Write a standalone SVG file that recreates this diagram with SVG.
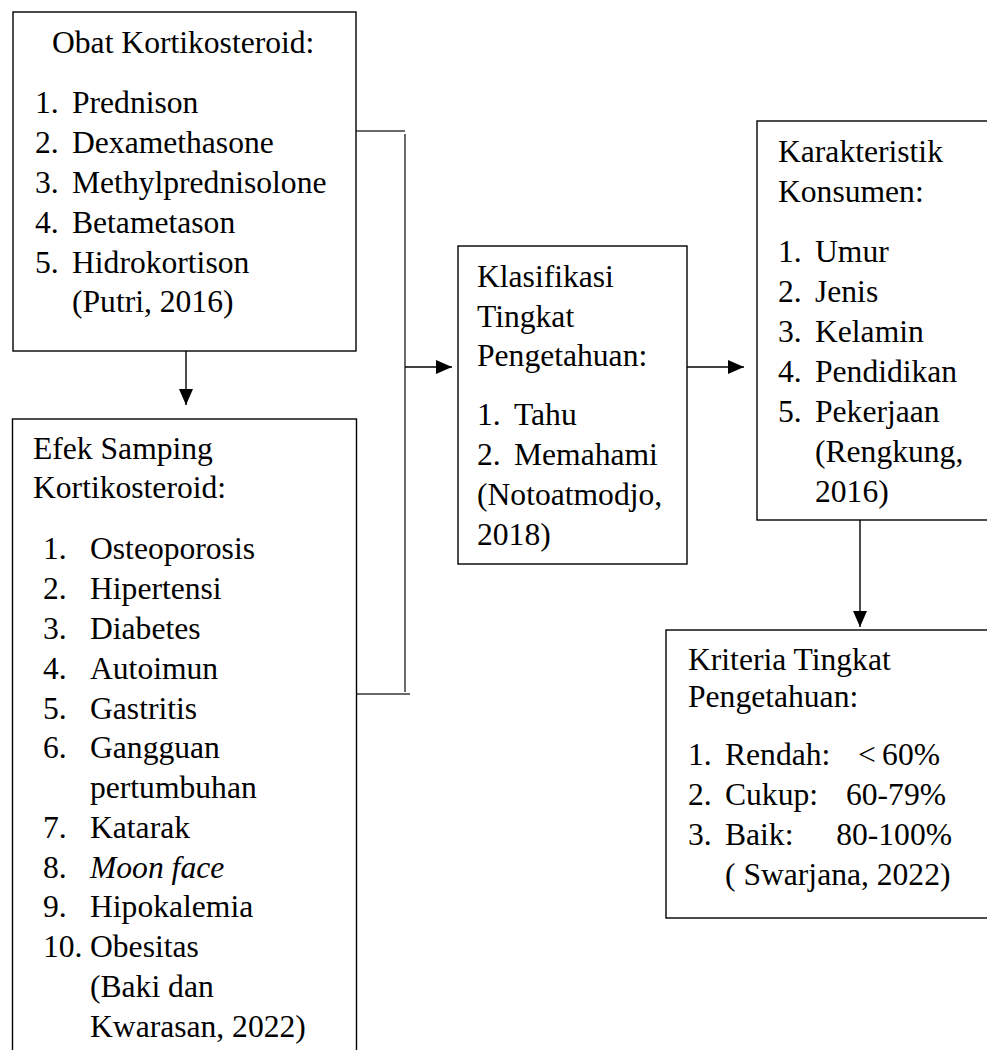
<svg xmlns="http://www.w3.org/2000/svg" width="987" height="1050" viewBox="0 0 987 1050">
<style>
.box{fill:#fff;stroke:#000;stroke-width:1.4}
.t{font-family:"Liberation Serif","Times New Roman",serif;font-size:31.6px;fill:#000}
.it{font-style:italic}
.e{text-anchor:end}
.conn{fill:none;stroke:#000;stroke-width:1.4}
.br{fill:none;stroke:#3a3a3a;stroke-width:1.5}
</style>
<defs>
<marker id="ah" markerUnits="userSpaceOnUse" markerWidth="16" markerHeight="14" refX="16" refY="7" orient="auto">
<path d="M0,0 L16,7 L0,14 Z" fill="#000"/>
</marker>
</defs>
<rect width="987" height="1050" fill="#fff"/>
<g id="connectors">
<path class="br" d="M356,131 H405 M405,134 V692 M356,694 H410"/>
<line class="conn" x1="186" y1="351" x2="186" y2="405" marker-end="url(#ah)"/>
<line class="conn" x1="405" y1="367" x2="452" y2="367" marker-end="url(#ah)"/>
<line class="conn" x1="687" y1="367" x2="744" y2="367" marker-end="url(#ah)"/>
<line class="conn" x1="860" y1="520" x2="860" y2="627" marker-end="url(#ah)"/>
</g>
<g id="obat">
<rect class="box" x="13" y="12" width="343" height="339"/>
<text class="t" x="52" y="53">Obat Kortikosteroid:</text>
<text class="t" x="35" y="113">1.</text><text class="t" x="72" y="113">Prednison</text>
<text class="t" x="35" y="153">2.</text><text class="t" x="72" y="153">Dexamethasone</text>
<text class="t" x="35" y="193">3.</text><text class="t" x="72" y="193">Methylprednisolone</text>
<text class="t" x="35" y="233">4.</text><text class="t" x="72" y="233">Betametason</text>
<text class="t" x="35" y="273">5.</text><text class="t" x="72" y="273">Hidrokortison</text>
<text class="t" x="72" y="312">(Putri, 2016)</text>
</g>
<g id="efek">
<rect class="box" x="12.5" y="419" width="344" height="700"/>
<text class="t" x="33" y="459">Efek Samping</text>
<text class="t" x="33" y="498">Kortikosteroid:</text>
<text class="t" x="43" y="559">1.</text><text class="t" x="90" y="559">Osteoporosis</text>
<text class="t" x="43" y="599">2.</text><text class="t" x="90" y="599">Hipertensi</text>
<text class="t" x="43" y="639">3.</text><text class="t" x="90" y="639">Diabetes</text>
<text class="t" x="43" y="679">4.</text><text class="t" x="90" y="679">Autoimun</text>
<text class="t" x="43" y="719">5.</text><text class="t" x="90" y="719">Gastritis</text>
<text class="t" x="43" y="758">6.</text><text class="t" x="90" y="758">Gangguan</text>
<text class="t" x="90" y="798">pertumbuhan</text>
<text class="t" x="43" y="838">7.</text><text class="t" x="90" y="838">Katarak</text>
<text class="t" x="43" y="878">8.</text><text class="t it" x="90" y="878">Moon face</text>
<text class="t" x="43" y="917">9.</text><text class="t" x="90" y="917">Hipokalemia</text>
<text class="t" x="43" y="957">10.</text><text class="t" x="90" y="957">Obesitas</text>
<text class="t" x="90" y="997">(Baki dan</text>
<text class="t" x="90" y="1037">Kwarasan, 2022)</text>
</g>
<g id="klasifikasi">
<rect class="box" x="458" y="246" width="229" height="318"/>
<text class="t" x="477" y="287">Klasifikasi</text>
<text class="t" x="477" y="327">Tingkat</text>
<text class="t" x="477" y="366">Pengetahuan:</text>
<text class="t" x="477" y="425">1.</text><text class="t" x="514" y="425">Tahu</text>
<text class="t" x="477" y="465">2.</text><text class="t" x="514" y="465">Memahami</text>
<text class="t" x="477" y="505">(Notoatmodjo,</text>
<text class="t" x="477" y="545">2018)</text>
</g>
<g id="karakteristik">
<rect class="box" x="757" y="121" width="300" height="399"/>
<text class="t" x="778" y="162">Karakteristik</text>
<text class="t" x="778" y="202">Konsumen:</text>
<text class="t" x="778" y="262">1.</text><text class="t" x="815" y="262">Umur</text>
<text class="t" x="778" y="302">2.</text><text class="t" x="815" y="302">Jenis</text>
<text class="t" x="778" y="342">3.</text><text class="t" x="815" y="342">Kelamin</text>
<text class="t" x="778" y="382">4.</text><text class="t" x="815" y="382">Pendidikan</text>
<text class="t" x="778" y="422">5.</text><text class="t" x="815" y="422">Pekerjaan</text>
<text class="t" x="815" y="462">(Rengkung,</text>
<text class="t" x="815" y="502">2016)</text>
</g>
<g id="kriteria">
<rect class="box" x="666" y="630" width="400" height="288"/>
<text class="t" x="688" y="670">Kriteria Tingkat</text>
<text class="t" x="688" y="707">Pengetahuan:</text>
<text class="t" x="688" y="765">1.</text><text class="t" x="725" y="765">Rendah:</text><text class="t" x="858" y="765">&lt;</text><text class="t e" x="940" y="765">60%</text>
<text class="t" x="688" y="805">2.</text><text class="t" x="725" y="805">Cukup:</text><text class="t e" x="946" y="805">60-79%</text>
<text class="t" x="688" y="845">3.</text><text class="t" x="725" y="845">Baik:</text><text class="t e" x="952" y="845">80-100%</text>
<text class="t" x="725" y="885">( Swarjana, 2022)</text>
</g>
</svg>
